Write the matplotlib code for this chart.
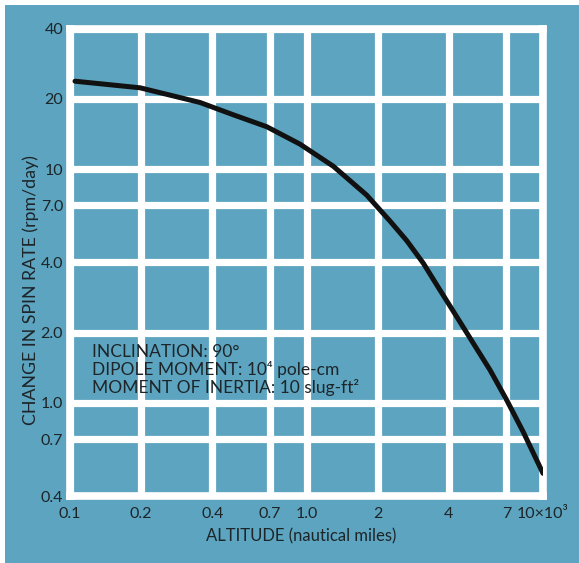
import matplotlib
matplotlib.use("Agg")
import matplotlib.pyplot as plt
from matplotlib.patches import Rectangle
from matplotlib.ticker import FixedLocator, FixedFormatter, NullLocator

# ---- data ----
altitude = [0.105, 0.198, 0.3545, 0.49, 0.679, 0.939, 1.298, 1.797, 2.255, 2.653,
            3.119, 3.668, 4.316, 5.074, 5.97, 7.02, 8.26, 10.0]
spin_rate = [23.8, 22.3, 19.3, 17.1, 15.2, 12.8, 10.3, 7.75, 6.0, 4.95,
             3.96, 3.04, 2.34, 1.80, 1.384, 1.03, 0.75, 0.50]

x_ticks = [0.1, 0.2, 0.4, 0.7, 1.0, 2, 4, 7, 10]
x_tick_labels = ["0.1", "0.2", "0.4", "0.7", "1.0", "2", "4", "7", "10×10³"]
y_ticks = [0.4, 0.7, 1.0, 2.0, 4.0, 7.0, 10, 20, 40]
y_tick_labels = ["0.4", "0.7", "1.0", "2.0", "4.0", "7.0", "10", "20", "40"]

annotation_lines = ["INCLINATION: 90°",
                    "DIPOLE MOMENT: 10⁴ pole-cm",
                    "MOMENT OF INERTIA: 10 slug-ft²"]

# ---- style ----
TEAL = "#5ca4bf"
TXT = "#1d2529"
plt.rcParams['font.family'] = ['Lato', 'DejaVu Sans']

W, H = 579, 563
fig = plt.figure(figsize=(W / 100, H / 100), dpi=100, facecolor="white")
bg = Rectangle((5 / W, 0), 1, 1 - 5 / H, transform=fig.transFigure,
               facecolor=TEAL, edgecolor="none", zorder=-10)
fig.add_artist(bg)

ax = fig.add_axes([70 / W, 1 - 496 / H, (543 - 70) / W, (496 - 28.5) / H])
ax.set_zorder(1)
ax.set_facecolor(TEAL)
ax.set_xscale("log")
ax.set_yscale("log")
ax.set_xlim(0.1, 10)
ax.set_ylim(0.4, 40)

ax.xaxis.set_major_locator(FixedLocator(x_ticks))
ax.xaxis.set_major_formatter(FixedFormatter(x_tick_labels))
ax.xaxis.set_minor_locator(NullLocator())
ax.yaxis.set_major_locator(FixedLocator(y_ticks))
ax.yaxis.set_major_formatter(FixedFormatter(y_tick_labels))
ax.yaxis.set_minor_locator(NullLocator())

ax.grid(True, which="major", color="white", linewidth=5.2)
ax.set_axisbelow(True)
for s in ax.spines.values():
    s.set_color("white")
    s.set_linewidth(5.5)
ax.tick_params(length=0, labelsize=11.5, colors=TXT, pad=8)
ax.tick_params(axis="y", pad=5)

ax.plot(altitude, spin_rate, color="#111111", linewidth=3.6,
        solid_capstyle="round", solid_joinstyle="round", zorder=3)

ax.set_xlabel("ALTITUDE (nautical miles)", fontsize=12, color=TXT)
ax.xaxis.set_label_coords((301 - 70) / 473, (496 - 528) / 467.5)
ax.set_ylabel("CHANGE IN SPIN RATE (rpm/day)", fontsize=12.8, color=TXT)
ax.yaxis.set_label_coords((39 - 70) / 473, (496 - 290) / 467.5)

for i, line in enumerate(annotation_lines):
    t = ax.text(0, 0, line, fontsize=12.5, color=TXT, ha="left", va="center",
                transform=fig.transFigure, zorder=4)
    t.set_position((92 / W, 1 - (352 + 18 * i) / H))

fig.savefig("out.png", dpi=100, facecolor=fig.get_facecolor())
